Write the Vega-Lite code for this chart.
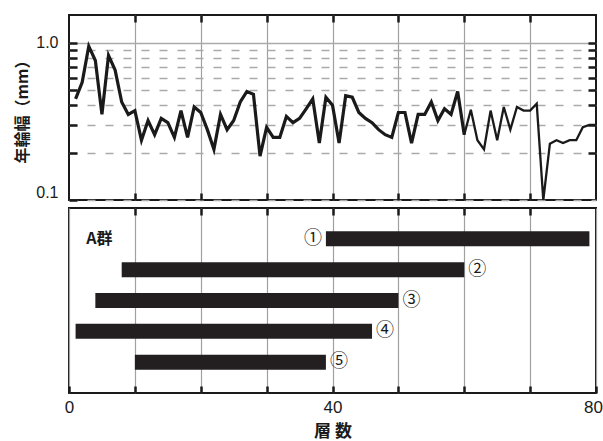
{
  "$schema": "https://vega.github.io/schema/vega-lite/v6.json",
  "padding": {"left": 13, "top": 12, "right": 5, "bottom": 5},
  "bounds": "flush",
  "spacing": 8,
  "config": {
    "view": {"stroke": "#1a1a1a", "strokeWidth": 2},
    "axis": {
      "grid": false, "domain": false, "tickColor": "#1a1a1a", "tickWidth": 2.5,
      "labelFont": "Liberation Sans", "labelFontSize": 16, "labelColor": "#1a1a1a",
      "titleFont": "Noto Sans CJK JP", "titleFontWeight": "bold", "titleFontSize": 16, "titleColor": "#1a1a1a"
    }
  },
  "datasets": {
    "rings": [
      {"layer": 1, "w": 0.44}, {"layer": 2, "w": 0.56}, {"layer": 3, "w": 0.95}, {"layer": 4, "w": 0.77},
      {"layer": 5, "w": 0.35}, {"layer": 6, "w": 0.83}, {"layer": 7, "w": 0.67}, {"layer": 8, "w": 0.42},
      {"layer": 9, "w": 0.35}, {"layer": 10, "w": 0.37}, {"layer": 11, "w": 0.24}, {"layer": 12, "w": 0.32},
      {"layer": 13, "w": 0.26}, {"layer": 14, "w": 0.33}, {"layer": 15, "w": 0.31}, {"layer": 16, "w": 0.25},
      {"layer": 17, "w": 0.37}, {"layer": 18, "w": 0.25}, {"layer": 19, "w": 0.39}, {"layer": 20, "w": 0.36},
      {"layer": 21, "w": 0.28}, {"layer": 22, "w": 0.21}, {"layer": 23, "w": 0.35}, {"layer": 24, "w": 0.28},
      {"layer": 25, "w": 0.32}, {"layer": 26, "w": 0.42}, {"layer": 27, "w": 0.49}, {"layer": 28, "w": 0.47},
      {"layer": 29, "w": 0.19}, {"layer": 30, "w": 0.29}, {"layer": 31, "w": 0.25}, {"layer": 32, "w": 0.25},
      {"layer": 33, "w": 0.34}, {"layer": 34, "w": 0.31}, {"layer": 35, "w": 0.33}, {"layer": 36, "w": 0.38},
      {"layer": 37, "w": 0.44}, {"layer": 38, "w": 0.23}, {"layer": 39, "w": 0.45}, {"layer": 40, "w": 0.40},
      {"layer": 41, "w": 0.23}, {"layer": 42, "w": 0.46}, {"layer": 43, "w": 0.45}, {"layer": 44, "w": 0.36},
      {"layer": 45, "w": 0.33}, {"layer": 46, "w": 0.31}, {"layer": 47, "w": 0.28}, {"layer": 48, "w": 0.26},
      {"layer": 49, "w": 0.25}, {"layer": 50, "w": 0.36}, {"layer": 51, "w": 0.36}, {"layer": 52, "w": 0.23},
      {"layer": 53, "w": 0.35}, {"layer": 54, "w": 0.35}, {"layer": 55, "w": 0.42}, {"layer": 56, "w": 0.32},
      {"layer": 57, "w": 0.38}, {"layer": 58, "w": 0.35}, {"layer": 59, "w": 0.49}, {"layer": 60, "w": 0.26},
      {"layer": 61, "w": 0.375}, {"layer": 62, "w": 0.24}, {"layer": 63, "w": 0.21}, {"layer": 64, "w": 0.37},
      {"layer": 65, "w": 0.24}, {"layer": 66, "w": 0.39}, {"layer": 67, "w": 0.28}, {"layer": 68, "w": 0.39},
      {"layer": 69, "w": 0.37}, {"layer": 70, "w": 0.37}, {"layer": 71, "w": 0.41}, {"layer": 72, "w": 0.1},
      {"layer": 73, "w": 0.228}, {"layer": 74, "w": 0.24}, {"layer": 75, "w": 0.23}, {"layer": 76, "w": 0.24},
      {"layer": 77, "w": 0.24}, {"layer": 78, "w": 0.29}, {"layer": 79, "w": 0.30}, {"layer": 80, "w": 0.30}
    ],
    "bars": [
      {"id": "①", "row": 1, "start": 39, "end": 79},
      {"id": "②", "row": 2, "start": 8, "end": 60},
      {"id": "③", "row": 3, "start": 4, "end": 50},
      {"id": "④", "row": 4, "start": 1, "end": 46},
      {"id": "⑤", "row": 5, "start": 10, "end": 39}
    ]
  },
  "vconcat": [
    {
      "width": 527,
      "height": 185,
      "data": {"name": "rings"},
      "layer": [
        {
          "transform": [{"filter": "datum.layer <= 60"}],
          "mark": {"type": "line", "color": "#1a1a1a", "strokeWidth": 3.2},
          "encoding": {
            "x": {
              "field": "layer", "type": "quantitative",
              "scale": {"domain": [0, 80], "nice": false, "zero": false},
              "axis": {"orient": "bottom", "values": [10, 20, 30, 40, 50, 60, 70], "labels": false, "title": null,
                       "offset": -7, "tickSize": 7, "grid": true, "gridColor": "#a0a0a0", "gridWidth": 1.2}
            },
            "y": {
              "field": "w", "type": "quantitative",
              "scale": {"type": "log", "domain": [0.1, 1.5], "nice": false},
              "axis": {
                "orient": "left", "values": [0.1, 0.2, 0.3, 0.4, 0.5, 0.6, 0.7, 0.8, 0.9, 1],
                "title": "年輪幅（mm）", "titlePadding": 5,
                "labelExpr": "datum.value == 1 ? '1.0' : (datum.value < 0.15 ? '0.1' : '')",
                "labelFlush": true, "labelPadding": 11,
                "offset": -8, "tickSize": 8,
                "grid": true, "gridColor": "#aaaaaa", "gridWidth": 1.5,
                "gridDash": {"condition": {"test": "datum.value == 1", "value": []}, "value": [8, 10]}
              }
            }
          }
        },
        {
          "transform": [{"filter": "datum.layer >= 60"}],
          "mark": {"type": "line", "color": "#1a1a1a", "strokeWidth": 2.3},
          "encoding": {
            "x": {
              "field": "layer", "type": "quantitative",
              "axis": {"orient": "top", "values": [10, 20, 30, 40, 50, 60, 70], "labels": false, "title": null,
                       "offset": -7, "tickSize": 7}
            },
            "y": {
              "field": "w", "type": "quantitative",
              "axis": {"orient": "right", "values": [0.2, 0.3, 0.4, 0.5, 0.6, 0.7, 0.8, 0.9, 1], "labels": false, "title": null,
                       "offset": -8, "tickSize": 8}
            }
          }
        }
      ],
      "resolve": {"axis": {"x": "independent", "y": "independent"}}
    },
    {
      "width": 527,
      "height": 185,
      "layer": [
        {
          "data": {"name": "bars"},
          "mark": {"type": "rule", "strokeWidth": 15, "color": "#231f20", "strokeCap": "butt"},
          "encoding": {
            "x": {
              "field": "start", "type": "quantitative",
              "scale": {"domain": [0, 80], "nice": false, "zero": false},
              "axis": {"orient": "bottom", "values": [0, 10, 20, 30, 40, 50, 60, 70, 80],
                       "labelExpr": "datum.value % 40 == 0 ? datum.label : ''",
                       "labelFontSize": 17,
                       "labelOffset": {"condition": {"test": "datum.value == 80", "value": -3}, "value": 0},
                       "labelFlush": false, "offset": -7, "tickSize": 7, "labelPadding": 6,
                       "grid": true, "gridColor": "#a0a0a0", "gridWidth": 1.2,
                       "title": "層 数", "titlePadding": 8, "titleFontSize": 17}
            },
            "x2": {"field": "end"},
            "y": {"field": "row", "type": "quantitative",
                  "scale": {"domain": [0, 6], "reverse": true, "nice": false, "zero": false}, "axis": null}
          }
        },
        {
          "data": {"name": "bars"},
          "transform": [{"filter": "datum.row == 1"}],
          "mark": {"type": "text", "font": "Noto Sans CJK JP", "fontSize": 18, "dx": -13, "color": "#1a1a1a"},
          "encoding": {
            "x": {"field": "start", "type": "quantitative",
                  "axis": {"orient": "top", "values": [10, 20, 30, 40, 50, 60, 70], "labels": false, "title": null,
                           "offset": -7, "tickSize": 7}},
            "y": {"field": "row", "type": "quantitative", "axis": null},
            "text": {"field": "id"}
          }
        },
        {
          "data": {"name": "bars"},
          "transform": [{"filter": "datum.row > 1"}],
          "mark": {"type": "text", "font": "Noto Sans CJK JP", "fontSize": 18, "dx": 13, "color": "#1a1a1a"},
          "encoding": {
            "x": {"field": "end", "type": "quantitative", "axis": null},
            "y": {"field": "row", "type": "quantitative", "axis": null},
            "text": {"field": "id"}
          }
        },
        {
          "data": {"values": [{"t": "A群"}]},
          "mark": {"type": "text", "align": "left", "font": "Noto Sans CJK JP", "fontWeight": "bold", "fontSize": 16, "color": "#1a1a1a"},
          "encoding": {
            "x": {"datum": 2.6, "type": "quantitative", "axis": null},
            "y": {"datum": 1, "type": "quantitative", "axis": null},
            "text": {"field": "t"}
          }
        }
      ],
      "resolve": {"axis": {"x": "independent"}}
    }
  ]
}
